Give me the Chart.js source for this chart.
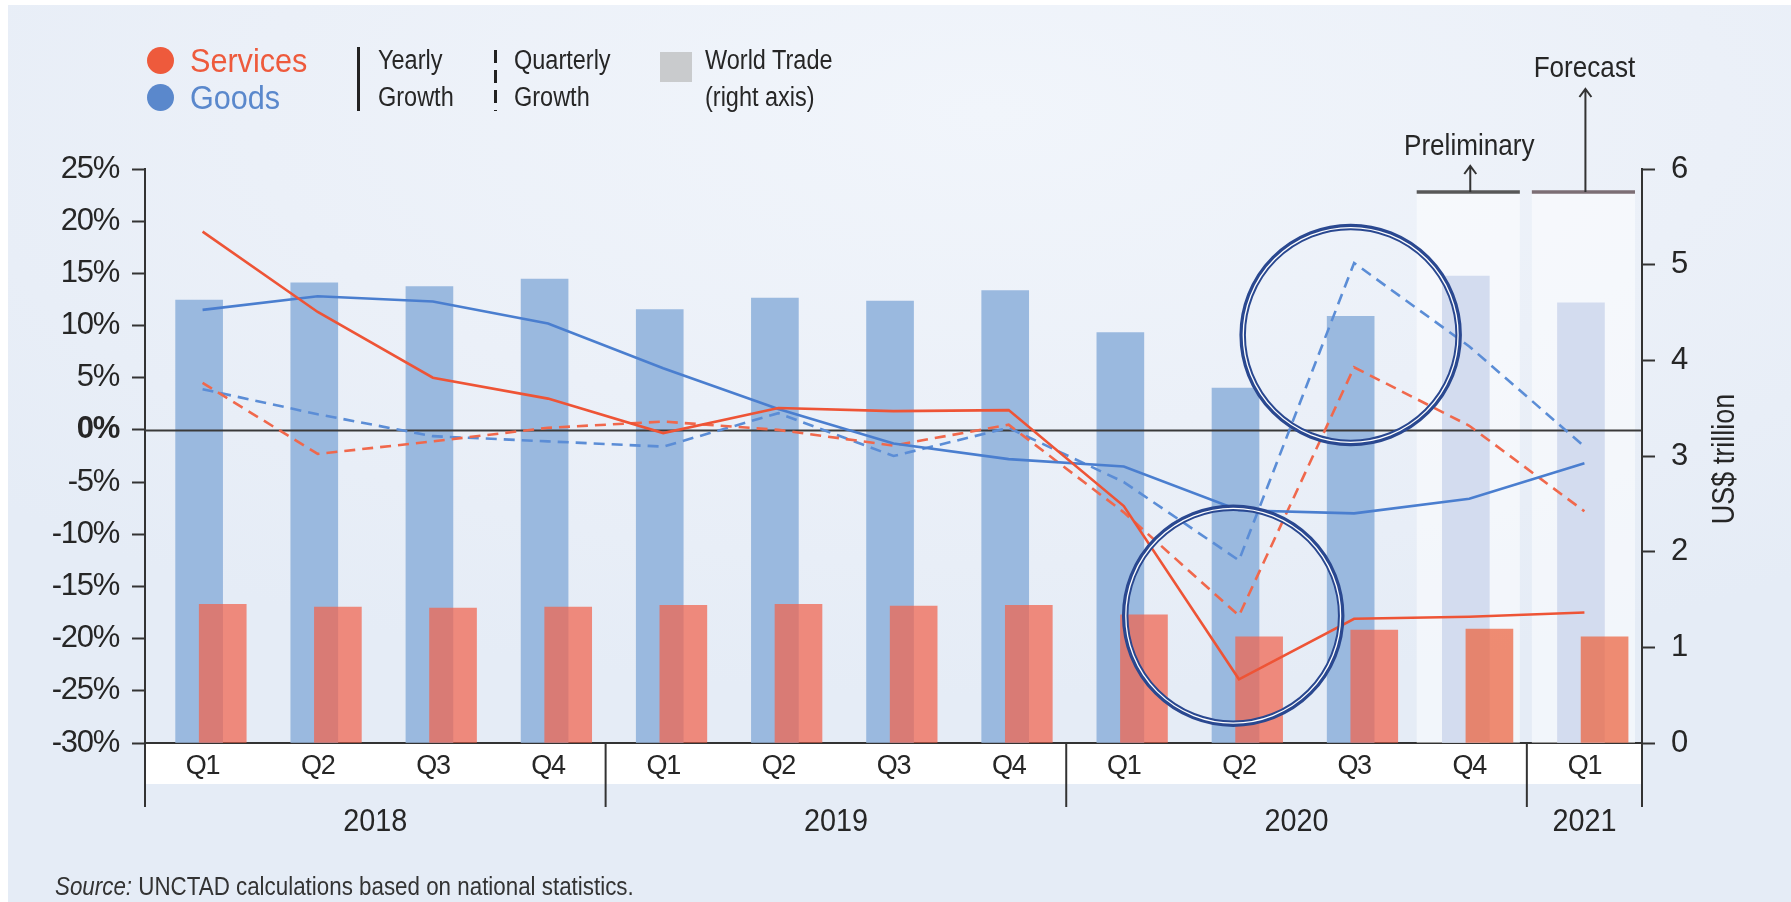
<!DOCTYPE html>
<html>
<head>
<meta charset="utf-8">
<title>Services and goods trade growth</title>
<script src="https://cdn.jsdelivr.net/npm/chart.js@4.4.1/dist/chart.umd.min.js"></script>
<style>
  html, body { margin: 0; padding: 0; background: #ffffff; }
  #wrap { position: relative; width: 1791px; height: 902px; overflow: hidden; background: #ffffff; }
  #bg { position: absolute; left: 8px; top: 5px; right: 0; bottom: 0;
        background: radial-gradient(ellipse 75% 65% at 55% 12%, #f1f5fb 0%, #ebf0f8 55%, #e5ecf6 100%); }
  #chart { position: absolute; left: 0; top: 0; }
  .t { position: absolute; white-space: nowrap; line-height: 1; color: #262626;
       font-family: "Liberation Sans", Arial, sans-serif; transform-origin: 0 50%; }
  .dot { position: absolute; width: 27px; height: 27px; border-radius: 50%; }
  .mark { position: absolute; width: 3px; }
</style>
</head>
<body>
<div id="wrap">
  <div id="bg"></div>
  <canvas id="chart" width="1791" height="902"></canvas>

  <!-- legend -->
  <div class="dot" style="left:147px;top:47px;background:#ee5a3c"></div>
  <div class="dot" style="left:147px;top:84px;background:#5a88cc"></div>
  <div class="t" style="left:190px;top:43px;font-size:34px;color:#ee5a3c;transform:scaleX(0.9)">Services</div>
  <div class="t" style="left:190px;top:80px;font-size:34px;color:#5a88cc;transform:scaleX(0.9)">Goods</div>

  <div class="mark" style="left:357px;top:47px;height:64px;background:#222"></div>
  <div class="t" style="left:378px;top:47px;font-size:27px;transform:scaleX(0.87)">Yearly</div>
  <div class="t" style="left:378px;top:84px;font-size:27px;transform:scaleX(0.87)">Growth</div>

  <div class="mark" style="left:494px;top:50px;height:61px;background:repeating-linear-gradient(to bottom,#222 0 13px,transparent 13px 20px)"></div>
  <div class="t" style="left:514px;top:47px;font-size:27px;transform:scaleX(0.87)">Quarterly</div>
  <div class="t" style="left:514px;top:84px;font-size:27px;transform:scaleX(0.87)">Growth</div>

  <div style="position:absolute;left:660px;top:52px;width:32px;height:30px;background:#c9cbcd"></div>
  <div class="t" style="left:705px;top:47px;font-size:27px;transform:scaleX(0.87)">World Trade</div>
  <div class="t" style="left:705px;top:84px;font-size:27px;transform:scaleX(0.87)">(right axis)</div>

  <div class="t" style="left:55px;top:873px;font-size:26px;color:#333;transform:scaleX(0.86)"><i>Source:</i> UNCTAD calculations based on national statistics.</div>
</div>

<script>
// Quarter labels and the years they belong to
const quarters = ['Q1', 'Q2', 'Q3', 'Q4', 'Q1', 'Q2', 'Q3', 'Q4', 'Q1', 'Q2', 'Q3', 'Q4', 'Q1'];
const years = ['2018', '2019', '2020', '2021'];
const quartersPerYear = [4, 4, 4, 1];

// Growth rates, per cent (left axis)
const servicesYearly    = [19.0, 11.3, 5.0, 3.0, -0.3, 2.1, 1.8, 1.9, -7.3, -23.9, -18.1, -17.9, -17.5];
const goodsYearly       = [11.5, 12.8, 12.3, 10.2, 5.9, 2.0, -1.3, -2.8, -3.5, -7.7, -8.0, -6.6, -3.2];
const servicesQuarterly = [4.5, -2.3, -1.1, 0.2, 0.8, 0.0, -1.5, 0.5, -7.9, -17.8, 6.0, 0.4, -7.8];
const goodsQuarterly    = [3.9, 1.5, -0.6, -1.1, -1.6, 1.6, -2.5, 0.2, -5.0, -12.5, 16.0, 8.0, -1.6];

// World trade value, US$ trillion (right axis)
const goodsTrade    = [4.63, 4.81, 4.77, 4.85, 4.53, 4.65, 4.62, 4.73, 4.29, 3.71, 4.46, 4.88, 4.60];
const servicesTrade = [1.45, 1.42, 1.41, 1.42, 1.44, 1.45, 1.43, 1.44, 1.34, 1.11, 1.18, 1.19, 1.11];

// Quarters that are preliminary / forecast
const preliminaryIndex = 11;
const forecastIndex = 12;

// Highlight rings: quarter position and growth level of their centres
const highlights = [{ at: 8.95, pct: -17.8 }, { at: 9.97, pct: 9.1 }];

const FONT = '"Liberation Sans", Arial, sans-serif';
const INK = '#262626';
const AXIS = '#333333';
const TIGHT = '-1.3px';

const pts = (arr, shift) => arr.map((v, i) => ({ x: i + (shift || 0), y: v }));

// horizontally condensed text, centred on (x, y)
function narrowText(ctx, text, x, y, size, sx, angle) {
  ctx.save();
  ctx.letterSpacing = '0px';
  ctx.font = size + 'px ' + FONT;
  ctx.fillStyle = INK;
  ctx.textAlign = 'center';
  ctx.textBaseline = 'middle';
  ctx.translate(x, y);
  if (angle) ctx.rotate(angle);
  ctx.scale(sx, 1);
  ctx.fillText(text, 0, 0);
  ctx.restore();
}

const decorations = {
  id: 'decorations',
  beforeUpdate(chart) { chart.ctx.letterSpacing = TIGHT; },
  beforeDraw(chart) {
    const { ctx, chartArea: a } = chart;
    ctx.letterSpacing = TIGHT;
    // white band behind the quarter labels
    ctx.save();
    ctx.fillStyle = '#ffffff';
    ctx.fillRect(a.left, a.bottom, a.right - a.left, 41);
    ctx.restore();
  },
  beforeDatasetsDraw(chart) {
    const { ctx, chartArea: a, scales: { x } } = chart;
    ctx.save();
    ctx.fillStyle = 'rgba(255,255,255,0.5)';
    [preliminaryIndex, forecastIndex].forEach(i => {
      const l = x.getPixelForValue(i - 0.5) + 5;
      const r = x.getPixelForValue(i + 0.5) - 7;
      ctx.fillRect(l, a.top + 23, r - l, a.bottom - a.top - 23);
    });
    ctx.restore();
  },
  afterDatasetDraw(chart, args) {
    // zero line sits above the bars but beneath the growth lines
    if (chart.data.datasets[args.index].id !== 'servicesBars') return;
    const { ctx, chartArea: a, scales: { y } } = chart;
    const py = Math.round(y.getPixelForValue(0)) + 0.5;
    ctx.save();
    ctx.strokeStyle = '#3a3a3a';
    ctx.lineWidth = 2;
    ctx.beginPath();
    ctx.moveTo(a.left, py);
    ctx.lineTo(a.right, py);
    ctx.stroke();
    ctx.restore();
  },
  afterDraw(chart) {
    const { ctx, chartArea: a, scales: { x, y } } = chart;
    ctx.save();

    // axis extensions and year separators below the quarter row
    ctx.strokeStyle = AXIS;
    ctx.lineWidth = 2;
    const seps = [a.left, a.right];
    let acc = 0;
    quartersPerYear.forEach((n, k) => {
      acc += n;
      if (k < quartersPerYear.length - 1) seps.push(x.getPixelForValue(acc - 0.5));
    });
    seps.forEach(px => {
      ctx.beginPath();
      ctx.moveTo(px, a.bottom);
      ctx.lineTo(px, a.bottom + 64);
      ctx.stroke();
    });

    // year labels centred under their quarters
    acc = 0;
    years.forEach((yr, k) => {
      const mid = acc + (quartersPerYear[k] - 1) / 2;
      narrowText(ctx, yr, x.getPixelForValue(mid), a.bottom + 79, 32, 0.9);
      acc += quartersPerYear[k];
    });

    // Preliminary / Forecast headers
    const headY = a.top + 23;
    const head = (i, color, label, tipY, textY) => {
      const l = x.getPixelForValue(i - 0.5) + 5;
      const r = x.getPixelForValue(i + 0.5) - 7;
      const cx = x.getPixelForValue(i) + 1;
      ctx.strokeStyle = color;
      ctx.lineWidth = 3.5;
      ctx.beginPath();
      ctx.moveTo(l, headY);
      ctx.lineTo(r, headY);
      ctx.stroke();
      ctx.strokeStyle = '#333';
      ctx.lineWidth = 2;
      ctx.beginPath();
      ctx.moveTo(cx, headY);
      ctx.lineTo(cx, tipY);
      ctx.moveTo(cx - 6, tipY + 8);
      ctx.lineTo(cx, tipY);
      ctx.lineTo(cx + 6, tipY + 8);
      ctx.stroke();
      narrowText(ctx, label, cx - 1, textY, 30, 0.87);
    };
    head(preliminaryIndex, '#585858', 'Preliminary', a.top - 3, a.top - 22);
    head(forecastIndex, '#7c6e74', 'Forecast', a.top - 80, a.top - 100);

    // right axis title, reading upwards
    narrowText(ctx, 'US$ trillion', a.right + 83, (a.top + a.bottom) / 2 + 3, 31, 0.87, -Math.PI / 2);

    // highlight rings
    highlights.forEach(h => {
      const cx = x.getPixelForValue(h.at);
      const cy = y.getPixelForValue(h.pct);
      ctx.strokeStyle = '#2a4890';
      ctx.lineWidth = 6.5;
      ctx.beginPath();
      ctx.arc(cx, cy, 108, 0, Math.PI * 2);
      ctx.stroke();
      ctx.strokeStyle = '#ffffff';
      ctx.lineWidth = 1.3;
      ctx.beginPath();
      ctx.arc(cx, cy, 107.4, 0, Math.PI * 2);
      ctx.stroke();
    });
    ctx.restore();
  }
};

const lineBase = { type: 'line', yAxisID: 'y', pointRadius: 0, tension: 0, borderWidth: 2.6, fill: false };

new Chart(document.getElementById('chart'), {
  type: 'bar',
  data: {
    datasets: [
      { ...lineBase, label: 'Services yearly', data: pts(servicesYearly), borderColor: '#ee5436', order: 0 },
      { ...lineBase, label: 'Goods yearly', data: pts(goodsYearly), borderColor: '#4a7ecf', order: 1 },
      { ...lineBase, label: 'Services quarterly', data: pts(servicesQuarterly), borderColor: '#f0684c', borderDash: [11, 7], order: 2 },
      { ...lineBase, label: 'Goods quarterly', data: pts(goodsQuarterly), borderColor: '#5b8dd6', borderDash: [11, 7], order: 3 },
      {
        id: 'servicesBars', type: 'bar', label: 'Services trade', yAxisID: 'y1', order: 4,
        data: pts(servicesTrade, 0.175), grouped: false, barThickness: 47,
        backgroundColor: servicesTrade.map((_, i) => i >= preliminaryIndex ? 'rgba(237,94,55,0.7)' : 'rgba(241,99,76,0.72)')
      },
      {
        id: 'goodsBars', type: 'bar', label: 'Goods trade', yAxisID: 'y1', order: 5,
        data: pts(goodsTrade, -0.03), grouped: false, barThickness: 47,
        backgroundColor: goodsTrade.map((_, i) => i >= preliminaryIndex ? '#d3dcef' : '#9ab9df')
      }
    ]
  },
  options: {
    responsive: false,
    animation: false,
    events: [],
    layout: { padding: { top: 169, left: 0, right: 0, bottom: 0 } },
    plugins: { legend: { display: false }, tooltip: { enabled: false } },
    scales: {
      x: {
        type: 'linear', min: -0.5, max: 12.5, offset: false,
        afterBuildTicks: s => { s.ticks = quarters.map((_, i) => ({ value: i })); },
        afterFit: s => { s.height = 159; },
        grid: { display: false, drawTicks: false },
        border: { display: true, color: AXIS, width: 2 },
        ticks: {
          autoSkip: false, maxRotation: 0, padding: 7, color: INK,
          font: { family: FONT, size: 27 },
          callback: v => quarters[v]
        }
      },
      y: {
        position: 'left', min: -30, max: 25,
        afterFit: s => { s.width = 145; },
        grid: { drawOnChartArea: false, drawTicks: true, tickLength: 13, tickWidth: 2, tickColor: AXIS },
        border: { display: true, color: AXIS, width: 2 },
        ticks: {
          stepSize: 5, padding: 13, color: INK,
          font: c => ({ family: FONT, size: 31, weight: c.tick && c.tick.value === 0 ? 'bold' : 'normal' }),
          callback: v => v + '%'
        }
      },
      y1: {
        position: 'right', min: 0, max: 6,
        afterFit: s => { s.width = 149; },
        grid: { drawOnChartArea: false, drawTicks: true, tickLength: 13, tickWidth: 2, tickColor: AXIS },
        border: { display: true, color: AXIS, width: 2 },
        ticks: { stepSize: 1, padding: 16, color: INK, font: { family: FONT, size: 31 } }
      }
    }
  },
  plugins: [decorations]
});
</script>
</body>
</html>
